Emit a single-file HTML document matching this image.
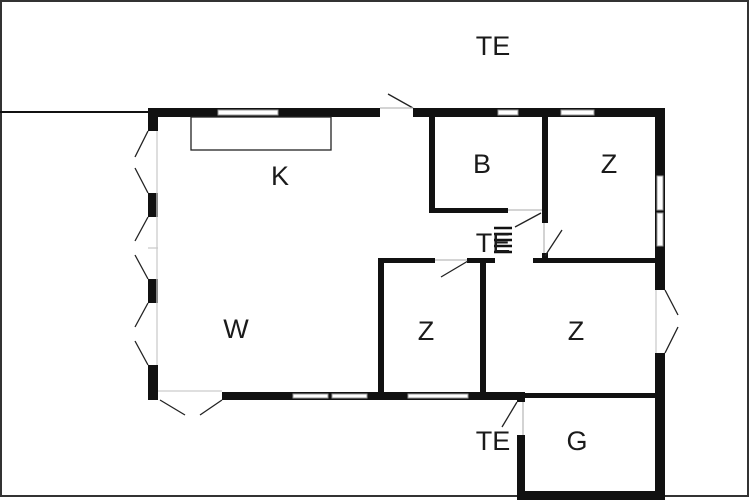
<!DOCTYPE html>
<html><head><style>
html,body{margin:0;padding:0;background:#fff;}
svg{display:block;}
text{font-family:"Liberation Sans",sans-serif;font-size:27px;fill:#1a1a1a;text-anchor:middle;}
</style></head><body>
<svg width="750" height="500" viewBox="0 0 750 500">
<rect x="1" y="1" width="747" height="495" fill="#fff" stroke="#333" stroke-width="2"/>
<line x1="0" y1="112" x2="150" y2="112" stroke="#111" stroke-width="2"/>
<g fill="#111">
<!-- top wall -->
<rect x="148" y="108" width="232" height="9"/>
<rect x="413" y="108" width="252" height="9"/>
<!-- left wall segments -->
<rect x="148" y="108" width="10" height="23"/>
<rect x="148" y="193" width="10" height="24"/>
<rect x="148" y="279" width="10" height="24"/>
<rect x="148" y="365" width="10" height="35"/>
<!-- bottom wall -->
<rect x="222" y="392" width="303" height="8"/>
<!-- right wall -->
<rect x="655" y="108" width="10" height="182"/>
<rect x="655" y="353" width="10" height="147"/>
<!-- B room -->
<rect x="429" y="108" width="6" height="105"/>
<rect x="429" y="208" width="79" height="5"/>
<rect x="542" y="108" width="6" height="115"/>
<rect x="542" y="253" width="6" height="8"/>
<!-- horizontal corridor walls -->
<rect x="533" y="258" width="122" height="5"/>
<rect x="467" y="258" width="28" height="5"/>
<rect x="378" y="258" width="57" height="5"/>
<rect x="378" y="258" width="6" height="138"/>
<rect x="480" y="258" width="6" height="138"/>
<!-- G room -->
<rect x="525" y="393" width="130" height="5"/>
<rect x="517" y="392" width="8" height="10"/>
<rect x="517" y="435" width="8" height="65"/>
<rect x="517" y="491" width="148" height="9"/>
</g>
<!-- windows -->
<g fill="#fff" stroke="#999" stroke-width="1">
<rect x="218" y="110" width="60" height="5"/>
<rect x="498" y="110" width="20" height="5"/>
<rect x="561" y="110" width="33" height="5"/>
<rect x="293" y="394" width="35" height="4"/>
<rect x="332" y="394" width="35" height="4"/>
<rect x="408" y="394" width="60" height="4"/>
<rect x="657" y="176" width="6" height="34"/>
<rect x="657" y="213" width="6" height="33"/>
</g>
<!-- counter -->
<rect x="191" y="117" width="140" height="33" fill="none" stroke="#222" stroke-width="1.3"/>
<!-- door lines -->
<g stroke="#222" stroke-width="1.3" fill="none">
<line x1="388" y1="94" x2="413" y2="108"/>
<line x1="380" y1="108" x2="413" y2="108" stroke="#bbb"/>
<polyline points="148,131 135,157"/><polyline points="135,168 148,193"/>
<polyline points="148,217 135,241"/><polyline points="135,255 148,279"/>
<polyline points="148,303 135,327"/><polyline points="135,341 148,365"/>
<line x1="157" y1="131" x2="157" y2="365" stroke="#ccc"/>
<line x1="148" y1="248" x2="158" y2="248" stroke="#ccc"/>
<polyline points="160,400 185,415"/><polyline points="200,415 222,400"/>
<line x1="158" y1="391" x2="222" y2="391" stroke="#ccc"/>
<polyline points="665,290 678,315"/><polyline points="678,327 665,353"/>
<line x1="656" y1="290" x2="656" y2="353" stroke="#ccc"/>
<line x1="541" y1="213" x2="515" y2="227"/>
<line x1="508" y1="210" x2="542" y2="210" stroke="#bbb"/>
<line x1="545" y1="256" x2="562" y2="230"/>
<line x1="544" y1="223" x2="544" y2="253" stroke="#bbb"/>
<line x1="441" y1="277" x2="468" y2="261"/>
<line x1="435" y1="260" x2="467" y2="260" stroke="#bbb"/>
<line x1="517" y1="402" x2="502" y2="427"/>
<line x1="523" y1="402" x2="523" y2="435" stroke="#bbb"/>
</g>
<!-- stairs -->
<g stroke="#111" stroke-width="2.5">
<line x1="494" y1="228" x2="512" y2="228"/>
<line x1="494" y1="234" x2="512" y2="234"/>
<line x1="494" y1="240" x2="512" y2="240"/>
<line x1="494" y1="246" x2="512" y2="246"/>
<line x1="494" y1="252" x2="512" y2="252"/>
</g>
<text x="493" y="55">TE</text>
<text x="280" y="185">K</text>
<text x="482" y="173">B</text>
<text x="609" y="173">Z</text>
<text x="236" y="338">W</text>
<text x="426" y="340">Z</text>
<text x="576" y="340">Z</text>
<text x="493" y="252">TE</text>
<text x="493" y="450">TE</text>
<text x="577" y="450">G</text>
</svg>
</body></html>
